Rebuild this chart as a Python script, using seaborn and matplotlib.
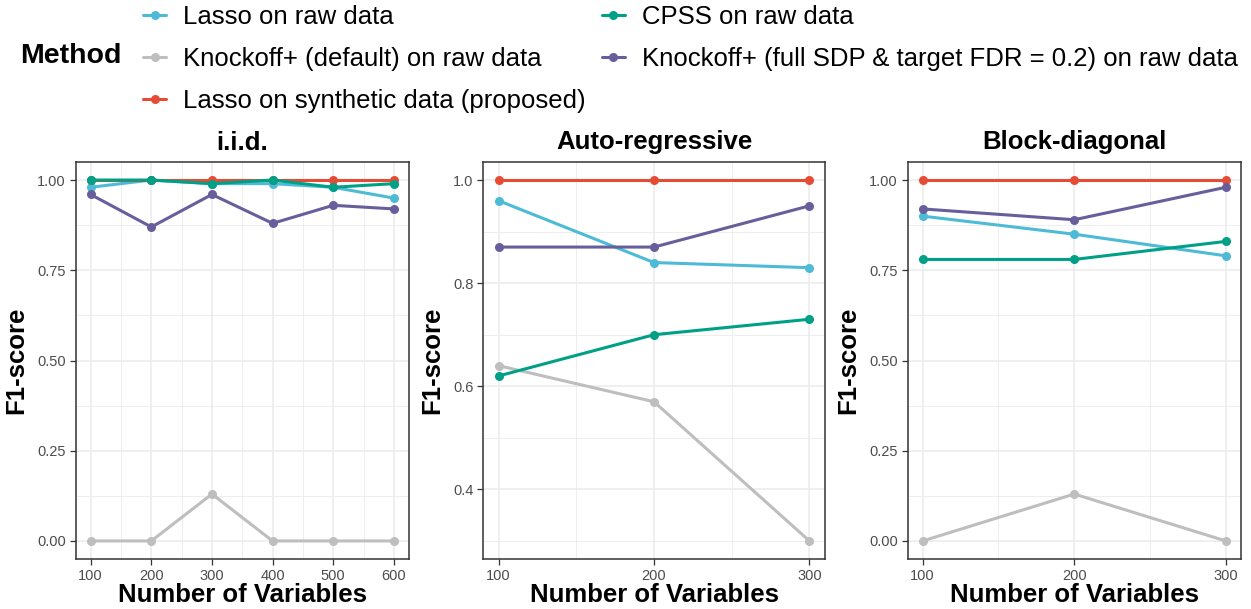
import matplotlib
matplotlib.use("Agg")
import matplotlib.pyplot as plt
from matplotlib.ticker import FixedLocator
from matplotlib.lines import Line2D
import seaborn as sns
import pandas as pd

# Methods and colours
methods = [
    "Lasso on raw data",
    "Knockoff+ (default) on raw data",
    "Lasso on synthetic data (proposed)",
    "CPSS on raw data",
    "Knockoff+ (full SDP & target FDR = 0.2) on raw data",
]
colors = ["#4DBBD5", "#BEBEBE", "#E64B35", "#00A087", "#675E9C"]

# Settings
panel_titles = ["i.i.d.", "Auto-regressive", "Block-diagonal"]
x_iid = [100, 200, 300, 400, 500, 600]
x_ar = [100, 200, 300]
x_block = [100, 200, 300]

# F1-scores, i.i.d. design
iid_lasso_raw = [0.98, 1.00, 0.99, 0.99, 0.98, 0.95]
iid_knockoff_default = [0.00, 0.00, 0.13, 0.00, 0.00, 0.00]
iid_lasso_synth = [1.00, 1.00, 1.00, 1.00, 1.00, 1.00]
iid_cpss = [1.00, 1.00, 0.99, 1.00, 0.98, 0.99]
iid_knockoff_full = [0.96, 0.87, 0.96, 0.88, 0.93, 0.92]

# F1-scores, auto-regressive design
ar_lasso_raw = [0.96, 0.84, 0.83]
ar_knockoff_default = [0.64, 0.57, 0.30]
ar_lasso_synth = [1.00, 1.00, 1.00]
ar_cpss = [0.62, 0.70, 0.73]
ar_knockoff_full = [0.87, 0.87, 0.95]

# F1-scores, block-diagonal design
block_lasso_raw = [0.90, 0.85, 0.79]
block_knockoff_default = [0.00, 0.13, 0.00]
block_lasso_synth = [1.00, 1.00, 1.00]
block_cpss = [0.78, 0.78, 0.83]
block_knockoff_full = [0.92, 0.89, 0.98]

panels = [
    (x_iid, [iid_lasso_raw, iid_knockoff_default, iid_lasso_synth, iid_cpss, iid_knockoff_full]),
    (x_ar, [ar_lasso_raw, ar_knockoff_default, ar_lasso_synth, ar_cpss, ar_knockoff_full]),
    (x_block, [block_lasso_raw, block_knockoff_default, block_lasso_synth, block_cpss, block_knockoff_full]),
]


def long_frame(xs, series):
    rows = []
    for m, vals in zip(methods, series):
        for x, v in zip(xs, vals):
            rows.append({"Method": m, "Variables": x, "F1": v})
    return pd.DataFrame(rows)


sns.set_theme(style="white")
plt.rcParams["font.family"] = ["Liberation Sans", "DejaVu Sans"]
plt.rcParams["text.color"] = "black"
plt.rcParams["axes.labelcolor"] = "black"

fig = plt.figure(figsize=(12.51, 6.09), dpi=100)
W, H = 1251, 609
boxes = [(75.5, 409), (483, 825), (907.5, 1241)]
top_px, bot_px = 162, 559

grid_c = "#EBEBEB"
pal = dict(zip(methods, colors))

for (xs, series), title, (l, r) in zip(panels, panel_titles, boxes):
    ax = fig.add_axes([l / W, 1 - bot_px / H, (r - l) / W, (bot_px - top_px) / H])
    df = long_frame(xs, series)
    sns.lineplot(data=df, x="Variables", y="F1", hue="Method", hue_order=methods,
                 palette=pal, marker="o", markersize=6.5, markeredgewidth=0,
                 linewidth=2.2, ax=ax, legend=False, zorder=3)
    xmin, xmax = min(xs), max(xs)
    xr = xmax - xmin
    ax.set_xlim(xmin - 0.05 * xr, xmax + 0.05 * xr)
    ax.xaxis.set_major_locator(FixedLocator(xs))
    ax.xaxis.set_minor_locator(FixedLocator([x + 50 for x in xs[:-1]]))
    if title == "Auto-regressive":
        allv = [v for s in series for v in s]
        lo, hi = min(allv), max(allv)
        rr = hi - lo
        ax.set_ylim(lo - 0.05 * rr, hi + 0.05 * rr)
        ax.yaxis.set_major_locator(FixedLocator([0.4, 0.6, 0.8, 1.0]))
        ax.yaxis.set_minor_locator(FixedLocator([0.3, 0.5, 0.7, 0.9]))
        ax.set_yticklabels(["0.4", "0.6", "0.8", "1.0"])
    else:
        ax.set_ylim(-0.05, 1.05)
        ax.yaxis.set_major_locator(FixedLocator([0, 0.25, 0.5, 0.75, 1.0]))
        ax.yaxis.set_minor_locator(FixedLocator([0.125, 0.375, 0.625, 0.875]))
        ax.set_yticklabels(["0.00", "0.25", "0.50", "0.75", "1.00"])
    ax.grid(True, which="major", color=grid_c, linewidth=1.1, zorder=0)
    ax.grid(True, which="minor", color=grid_c, linewidth=0.6, zorder=0)
    ax.set_axisbelow(True)
    for s in ax.spines.values():
        s.set_color("#333333")
        s.set_linewidth(1.1)
    ax.tick_params(axis="both", which="major", direction="out", length=4, width=0.9,
                   color="#333333", labelsize=10.5, labelcolor="#4D4D4D", pad=3,
                   bottom=True, left=True)
    ax.tick_params(axis="both", which="minor", length=0)
    ax.set_title(title, fontsize=18.5, fontweight="bold", pad=9, color="black")
    ax.set_xlabel("Number of Variables", fontsize=18.5, fontweight="bold", labelpad=0)
    ax.set_ylabel("F1-score", fontsize=18.5, fontweight="bold", labelpad=6)

handles = [Line2D([0], [0], color=c, lw=2.2, marker="o", markersize=6.5, markeredgewidth=0)
           for c in colors]
leg = fig.legend(handles, methods, ncol=2, loc="upper left",
                 bbox_to_anchor=(133 / W, 1.008), frameon=False, fontsize=18.5,
                 handlelength=0.9, handletextpad=0.66, columnspacing=0.62,
                 labelspacing=0.7, borderaxespad=0)
fig.text(20 / W, 1 - 56 / H, "Method", fontsize=20.5, fontweight="bold",
         va="center", ha="left", color="black")

fig.savefig("out.png", dpi=100)
